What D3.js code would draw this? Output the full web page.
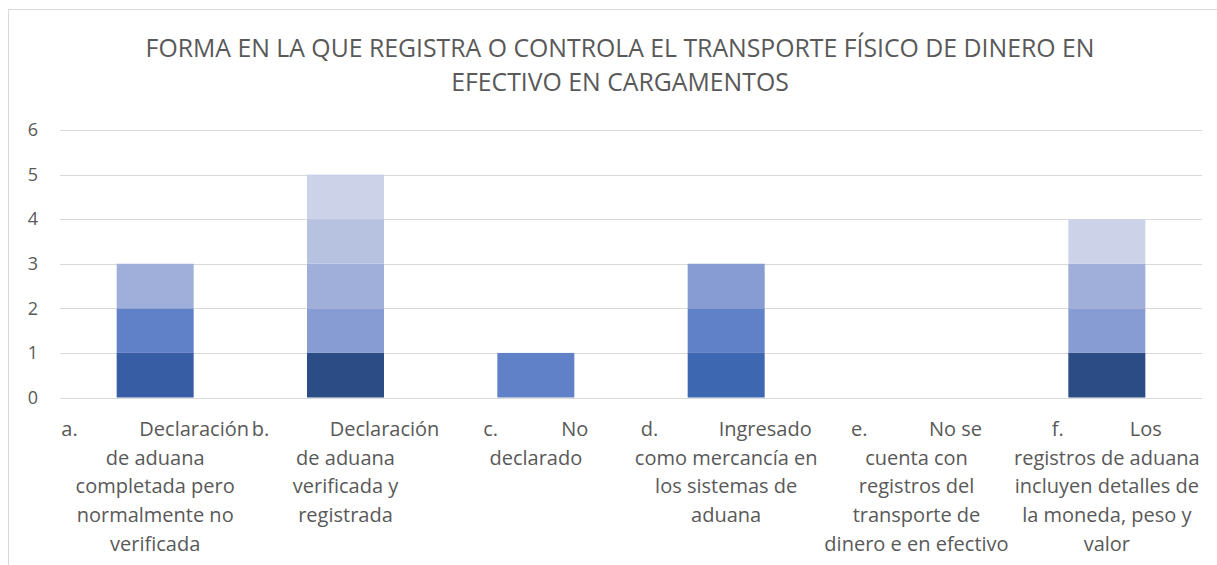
<!DOCTYPE html>
<meta charset="utf-8">
<style>
body { margin: 0; background: #fff; }
text { font-family: "Open Sans", sans-serif; fill: #595959; }
.grid line { stroke: #d9d9d9; stroke-width: 1; shape-rendering: crispEdges; }
.axis path, .axis line { display: none; }
</style>
<body>
<script src="https://d3js.org/d3.v7.min.js"></script>
<script>
var titleLines = [
  "FORMA EN LA QUE REGISTRA O CONTROLA EL TRANSPORTE FÍSICO DE DINERO EN",
  "EFECTIVO EN CARGAMENTOS"
];

var categories = ["a", "b", "c", "d", "e", "f"];

// first line is "prefix<TAB>word", the rest are centred lines
var labelLines = [
  ["a.\tDeclaración", "de aduana", "completada pero", "normalmente no", "verificada"],
  ["b.\tDeclaración", "de aduana", "verificada y", "registrada"],
  ["c.\tNo", "declarado"],
  ["d.\tIngresado", "como mercancía en", "los sistemas de", "aduana"],
  ["e.\tNo se", "cuenta con", "registros del", "transporte de", "dinero e en efectivo"],
  ["f.\tLos", "registros de aduana", "incluyen detalles de", "la moneda, peso y", "valor"]
];

// stacked series, bottom to top, one value per category
var seriesNames = ["s1", "s2", "s3", "s4", "s5", "s6", "s7", "s8"];
var seriesColors = ["#2b4c85", "#375ea4", "#3d67b1", "#6081c7", "#879cd3", "#a0afd9", "#b6c2e0", "#ccd3e8"];
var s1 = [0, 1, 0, 0, 0, 1];
var s2 = [1, 0, 0, 0, 0, 0];
var s3 = [0, 0, 0, 1, 0, 0];
var s4 = [1, 0, 1, 1, 0, 0];
var s5 = [0, 1, 0, 1, 0, 1];
var s6 = [1, 1, 0, 0, 0, 1];
var s7 = [0, 1, 0, 0, 0, 0];
var s8 = [0, 1, 0, 0, 0, 1];
var seriesValues = [s1, s2, s3, s4, s5, s6, s7, s8];

var yTicks = [0, 1, 2, 3, 4, 5, 6];

var W = 1217, H = 565;
var plotL = 60, plotR = 1202, plotT = 130, plotB = 397.5;

var svg = d3.select("body").append("svg")
    .attr("width", W)
    .attr("height", H);

// chart frame
svg.append("rect")
    .attr("x", 8.5).attr("y", 9.5)
    .attr("width", W + 20).attr("height", H + 20)
    .attr("fill", "#fff")
    .attr("stroke", "#d9d9d9");

var x = d3.scaleBand()
    .domain(categories)
    .range([plotL, plotR])
    .paddingInner(0.6)
    .paddingOuter(0.3);

var y = d3.scaleLinear()
    .domain([0, 6])
    .range([plotB, plotT]);

// gridlines
svg.append("g")
    .attr("class", "grid")
  .selectAll("line")
    .data(yTicks)
  .enter().append("line")
    .attr("x1", plotL)
    .attr("x2", plotR)
    .attr("y1", function(d) { return Math.round(y(d)) + 0.5; })
    .attr("y2", function(d) { return Math.round(y(d)) + 0.5; });

// y tick labels
var yAxis = svg.append("g")
    .attr("class", "axis")
    .attr("transform", "translate(" + (plotL - 22) + ",0)")
    .call(d3.axisLeft(y).tickValues(yTicks).tickFormat(d3.format("d")).tickSize(0).tickPadding(0));
yAxis.select(".domain").remove();
yAxis.selectAll("text")
    .attr("font-family", null)
    .style("font-size", "18px")
    .attr("fill", "#595959");

// stacked bars
var table = categories.map(function(c, i) {
  var row = {cat: c};
  seriesNames.forEach(function(s, j) { row[s] = seriesValues[j][i]; });
  return row;
});
var stack = d3.stack().keys(seriesNames)(table);

var bw = 77;
svg.append("g").selectAll("g")
    .data(stack)
  .enter().append("g")
    .attr("fill", function(d, i) { return seriesColors[i]; })
  .selectAll("rect")
    .data(function(d) { return d.filter(function(p) { return p[1] > p[0]; }); })
  .enter().append("rect")
    .attr("x", function(d) { return x(d.data.cat) + x.bandwidth() / 2 - bw / 2; })
    .attr("width", bw)
    .attr("y", function(d) { return y(d[1]); })
    .attr("height", function(d) { return y(d[0]) - y(d[1]); });

// title
svg.append("g").selectAll("text")
    .data(titleLines)
  .enter().append("text")
    .attr("x", 620)
    .attr("y", function(d, i) { return 57 + i * 34; })
    .attr("text-anchor", "middle")
    .style("font-size", "24.8px")
    .text(function(d) { return d; });

// category labels
var tabStop = 78;
var lab = svg.append("g").style("font-size", "20px");
labelLines.forEach(function(lines, i) {
  var cx = x(categories[i]) + x.bandwidth() / 2;
  var parts = lines[0].split("\t");
  var g = lab.append("g");
  var pre = g.append("text").attr("y", 436).text(parts[0]);
  var word = g.append("text").attr("y", 436).text(parts[1]);
  var total = tabStop + word.node().getComputedTextLength();
  pre.attr("x", cx - total / 2);
  word.attr("x", cx - total / 2 + tabStop);
  lines.slice(1).forEach(function(l, k) {
    g.append("text")
        .attr("x", cx)
        .attr("y", 436 + (k + 1) * 28.7)
        .attr("text-anchor", "middle")
        .text(l);
  });
});
</script>
